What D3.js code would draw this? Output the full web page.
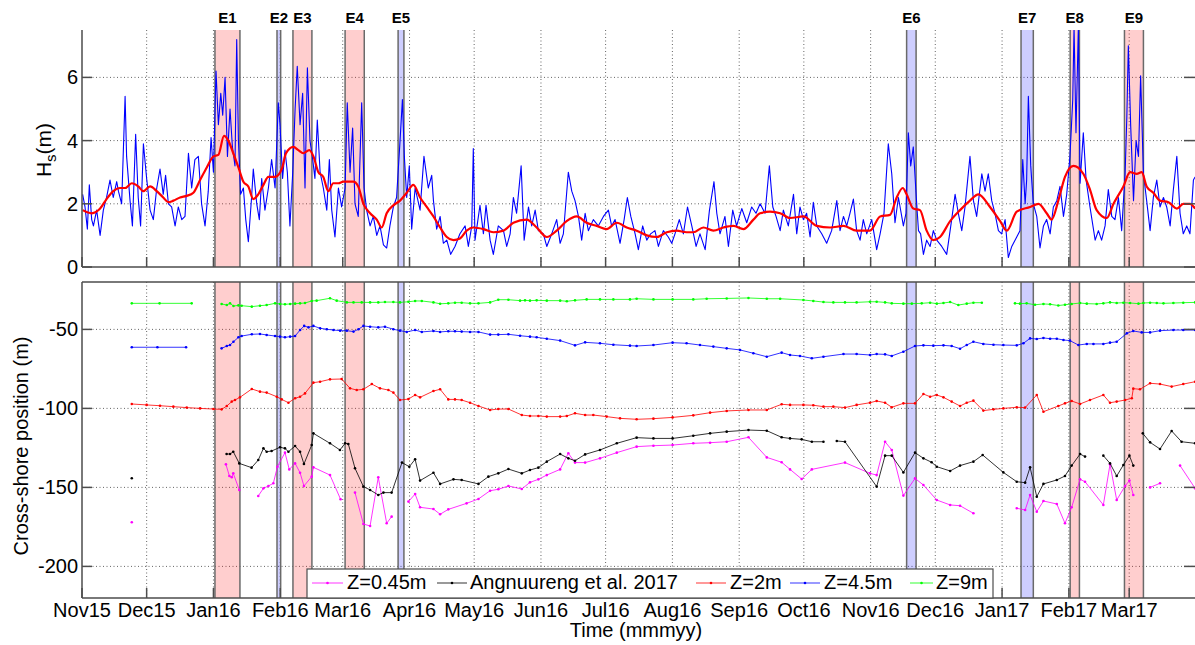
<!DOCTYPE html>
<html><head><meta charset="utf-8">
<script src="https://cdn.jsdelivr.net/npm/d3@7"></script>
<style>
body{margin:0;background:#fff}
svg{display:block}
text{font-family:"Liberation Sans",Arial,Helvetica,sans-serif;fill:#000}
</style></head>
<body><svg id="c" width="1195" height="645"></svg>
<script>
// ---------------- DATA ----------------
// time is given as days since 1 Nov 2015
const timeOrigin = "2015-11-01";
const monthTickStart = "2015-11-01", monthTickEnd = "2017-03-01";

const eventNames = ["E1","E2","E3","E4","E5","E6","E7","E8","E9"];
const eventStartDay = [61.7, 90.5, 97.9, 122.1, 146.7, 382.7, 435.8, 458.6, 483.8];
const eventEndDay   = [73.3, 92.2, 106.7, 131.0, 149.4, 387.1, 441.5, 462.9, 492.6];
const eventKind     = ["r","b","r","r","b","b","b","r","r"];

const hsTicks = [0, 2, 4, 6];
const posTicks = [-200, -150, -100, -50];

// significant wave height (m), [day, Hs]
const hsSeries = [
[0.3,2.3],[1.4,1.9],[2.5,1.2],[3.4,2.6],[4.5,1.5],[5.3,1.3],[6.8,1.8],[8.4,1.0],[9.9,1.8],[11.4,2.2],[13.0,2.75],[14.5,2.2],[16.1,2.7],[16.9,2.4],[18.4,2.0],[20.0,5.4],[20.7,3.5],[22.3,2.1],[23.4,1.3],[24.9,4.2],[26.1,2.2],[27.2,1.3],[28.5,3.9],[30.0,2.8],[31.6,1.8],[33.1,1.5],[34.7,2.5],[36.2,3.1],[37.7,2.3],[38.8,2.9],[40.1,2.0],[41.6,1.9],[43.2,1.3],[44.7,1.9],[46.3,1.5],[47.8,1.6],[49.4,3.6],[50.9,2.5],[52.4,3.4],[54.0,3.5],[55.5,2.0],[57.1,1.3],[58.6,2.4],[59.9,4.1],[61.0,3.0],[62.2,6.2],[63.3,4.5],[64.4,5.5],[65.3,4.8],[66.4,6.0],[67.5,3.5],[68.7,5.0],[69.8,3.8],[71.0,3.2],[71.8,7.2],[72.6,4.0],[73.6,2.3],[74.9,2.5],[76.0,1.5],[77.2,0.8],[78.7,2.2],[79.5,3.1],[81.1,2.0],[82.3,1.5],[83.4,2.8],[84.9,1.8],[86.5,2.5],[88.0,3.4],[89.6,2.5],[91.1,5.2],[91.9,4.5],[93.1,2.8],[94.2,3.7],[95.3,3.0],[96.5,1.3],[97.8,3.0],[98.9,5.0],[99.9,6.35],[101.2,4.5],[102.4,5.5],[103.5,2.5],[104.6,6.3],[105.8,4.0],[106.9,3.5],[108.1,2.8],[109.2,4.65],[110.5,3.0],[112.0,2.5],[113.6,1.8],[114.8,3.4],[115.9,1.8],[117.4,0.95],[119.0,2.5],[120.5,1.9],[122.1,2.5],[123.1,5.2],[124.4,3.0],[125.6,4.4],[126.7,2.0],[128.2,1.6],[129.8,5.2],[130.9,2.5],[132.1,1.8],[133.7,1.3],[135.2,1.6],[136.8,1.0],[138.3,1.3],[139.9,0.7],[141.4,0.6],[142.9,1.3],[144.5,1.9],[146.0,2.2],[147.6,4.0],[148.7,5.3],[149.6,3.5],[150.7,2.2],[151.9,3.2],
[153.0,1.2],[154.6,2.5],[156.9,1.8],[158.7,3.5],[160.7,2.5],[162.3,2.9],[163.1,2.1],[164.6,1.2],[166.2,1.6],[167.7,0.75],[169.3,0.85],[171.1,0.4],[173.1,0.65],[175.4,1.05],[177.8,1.3],[179.3,0.65],[180.9,1.3],[181.6,3.75],[182.4,0.85],[184.7,1.95],[186.3,1.05],[187.5,1.95],[189.4,0.85],[190.9,0.4],[193.2,1.3],[195.6,1.15],[197.1,0.65],[198.7,1.05],[200.2,2.2],[201.7,1.7],[203.8,3.2],[205.2,0.85],[207.2,1.9],[208.7,1.3],[210.3,1.8],[211.8,1.15],[214.1,1.05],[215.7,0.65],[218.0,1.05],[220.3,1.5],[221.9,0.75],[223.4,1.05],[225.7,3.0],[227.3,2.4],[228.8,2.1],[230.4,1.6],[231.9,0.85],[233.5,1.7],[235.0,1.15],[237.3,1.5],[239.6,1.3],[242.0,1.6],[244.3,1.8],[245.8,1.3],[247.4,1.5],[249.7,0.75],[251.6,1.5],[253.1,2.2],[254.7,1.6],[256.7,1.05],[258.2,0.55],[260.2,1.3],[262.1,0.85],[263.9,1.05],[265.9,1.15],[267.5,0.65],[269.8,1.15],[272.1,0.95],[273.7,0.75],[275.2,1.05],[277.2,1.5],[279.1,1.05],[281.0,1.9],[283.0,1.3],[285.0,0.65],[286.8,1.05],[289.2,0.55],[291.2,1.8],[293.3,2.7],[294.6,1.7],[296.1,1.05],[298.4,1.6],[300.0,0.65],[302.0,1.8],[303.8,1.3],[306.2,1.85],[308.5,1.4],[310.8,1.9],[312.8,1.7],[314.7,2.0],[317.0,1.7],[319.0,3.2],[320.6,1.9],[322.1,1.6],[324.0,1.15],[325.5,1.8],[327.8,1.3],[330.2,2.3],
[331.7,1.05],[333.2,1.9],[334.8,1.5],[336.3,1.7],[337.9,0.95],[339.4,2.05],[341.0,1.3],[343.3,1.05],[345.6,0.75],[347.9,1.15],[350.3,2.1],[351.8,1.15],[353.4,1.6],[354.9,1.3],[356.4,1.7],[358.0,2.15],[359.5,1.15],[361.1,0.85],[362.6,1.5],[364.2,1.05],[366.5,1.5],[368.8,0.55],[370.4,1.05],[372.2,1.7],[374.2,3.9],[375.8,2.95],[377.3,1.4],[378.9,2.2],[381.2,1.3],[382.4,1.7],[383.5,4.25],[384.6,3.2],[385.8,3.8],[387.1,2.3],[388.2,1.15],[389.2,1.05],[390.5,0.4],[392.0,0.85],[393.6,0.65],[395.1,1.15],[396.7,0.85],[399.0,0.65],[401.3,0.4],[403.2,1.3],[405.2,2.3],[406.7,1.7],[408.3,1.15],[409.8,1.9],[412.1,3.5],[413.7,2.1],[415.2,1.6],[417.6,2.95],[419.1,2.4],[420.6,2.95],[422.2,2.1],[423.7,1.7],[425.3,1.15],[426.8,1.05],[428.4,1.5],[429.9,0.3],[431.5,0.65],[433.8,0.95],[435.3,1.15],[436.6,3.4],[437.7,2.0],[438.4,2.75],[439.2,5.4],[440.3,3.2],[441.5,2.0],[443.1,1.6],[444.6,0.6],[446.2,1.3],[447.7,1.5],[449.3,1.05],[450.8,1.9],[452.4,2.1],[453.9,2.55],[455.5,1.6],[457.0,2.3],[458.5,3.5],[459.8,5.3],[460.4,7.6],[461.3,4.25],[462.4,7.6],[463.2,2.65],[464.7,4.25],[466.0,2.75],[467.8,1.9],[470.2,0.85],[471.7,1.15],[473.2,0.85],[474.8,1.3],[476.3,2.45],[477.9,1.6],[479.4,1.5],[481.0,2.2],[482.5,1.15],[484.1,2.95],[484.9,4.75],[485.6,7.0],[486.7,4.45],[488.0,2.1],[489.2,4.0],[490.3,3.5],[491.3,6.05],[492.6,2.95],[494.1,2.1],[495.7,1.15],[497.2,2.2],[498.8,2.75],[500.3,1.9],[501.9,2.2],[503.4,1.9],[505.0,1.3],[506.5,2.45],[508.1,3.5],[509.6,1.7],[511.1,1.05],[512.7,1.3],[514.2,1.05],[515.8,2.75],[516.6,2.85]
];

// smoothed Hs (m), [day, Hs]
const hsMeanSeries = [
[0.3,1.8],[4.5,1.7],[8.4,1.85],[11.4,2.15],[14.5,2.4],[17.6,2.5],[20.0,2.5],[23.1,2.65],[26.1,2.55],[28.5,2.4],[31.6,2.55],[34.7,2.4],[37.7,2.2],[40.1,2.05],[42.4,2.1],[45.5,2.2],[48.6,2.25],[51.7,2.35],[54.8,2.75],[57.9,3.15],[61.0,3.5],[63.3,3.55],[65.9,4.15],[67.9,4.0],[70.2,3.6],[72.6,3.15],[74.9,2.7],[77.2,2.55],[79.5,2.15],[81.8,2.3],[84.2,2.6],[86.5,2.85],[89.6,2.85],[92.7,3.1],[94.7,3.6],[98.1,3.8],[100.4,3.7],[102.7,3.6],[105.5,3.7],[107.4,3.5],[109.7,3.0],[112.0,2.85],[114.3,2.4],[116.6,2.65],[119.0,2.65],[121.3,2.7],[123.6,2.7],[125.9,2.7],[128.2,2.55],[130.6,2.0],[133.7,1.7],[136.8,1.5],[139.1,1.25],[141.4,1.7],[144.5,1.95],[147.6,2.1],[150.7,2.35],[153.8,2.6],
[156.9,2.2],[160.0,1.9],[163.1,1.6],[166.2,1.25],[169.3,0.95],[172.4,0.85],[175.4,0.9],[178.5,1.15],[181.6,1.25],[186.3,1.2],[190.9,1.1],[195.6,1.15],[200.2,1.4],[206.4,1.5],[211.0,1.25],[215.7,0.95],[220.3,1.15],[224.9,1.45],[229.6,1.6],[234.2,1.4],[238.9,1.3],[243.5,1.2],[248.2,1.4],[252.8,1.25],[257.4,1.15],[262.1,1.0],[266.7,0.95],[271.4,1.1],[276.0,1.15],[280.6,1.1],[283.7,1.1],[288.4,1.25],[293.0,1.15],[297.7,1.25],[302.3,1.3],[307.0,1.2],[311.6,1.5],[314.7,1.7],[319.3,1.75],[324.0,1.7],[328.6,1.55],
[334.8,1.6],[341.0,1.3],[347.2,1.25],[353.4,1.3],[359.5,1.15],[365.7,1.15],[370.4,1.6],[375.0,1.65],[378.1,2.2],[380.9,2.5],[382.7,2.3],[385.8,1.85],[388.9,1.8],[392.0,1.15],[395.1,0.85],[398.2,0.95],[402.9,1.45],[407.5,1.8],[412.1,2.1],[416.0,2.3],[421.4,1.9],[426.1,1.45],[429.2,1.15],[433.8,1.75],[440.0,1.9],[443.9,2.0],[447.7,1.7],[450.0,1.5],[453.1,2.1],[456.2,2.85],[460.1,3.2],[464.7,2.95],[467.8,2.45],[470.9,1.8],[475.6,1.55],[478.7,2.0],[483.3,2.55],[486.4,3.0],[489.5,2.95],[491.8,3.0],[494.1,2.55],[497.2,2.35],[500.3,2.1],[504.2,2.05],[508.1,1.85],[511.1,2.0],[514.2,2.0],[516.6,1.85]
];

// cross-shore positions (m), [day, position]; null = no survey
const z045Series = [
[23.1,-172.1],[26,null],
[66.8,-135.4],[68.4,-142.8],[69.5,-143.6],[70.2,-141.1],[73.0,-151.6],[76,null],
[81.8,-155.4],[84.2,-150.6],[86.5,-149.1],[88.8,-147.4],[90.7,-136.9],[94.2,-128.0],[96.2,-138.6],[98.9,-134.8],[101.2,-140.7],[103.0,-149.1],[106.6,-143.2],[107.4,-137.3],[115.1,-142.2],[120.0,-157.5],[123,null],
[126.7,-153.3],[130.6,-173.2],[133.7,-174.4],[137.5,-143.6],[141.4,-172.7],[143.7,-168.5],[147,null],
[151.5,-159.0],[154.6,-154.2],[156.9,-162.6],[163.1,-163.7],[166.2,-167.0],[170.0,-163.9],[178.5,-160.1],[184.0,-157.3],[189.4,-152.1],[193.2,-151.2],[197.9,-149.1],[204.1,-151.0],[207.9,-146.8],[211.8,-144.9],[215.7,-142.2],[221.9,-138.6],[225.7,-128.4],[228.8,-134.3],[233.5,-134.3],[240.4,-131.6],[248.2,-128.0],[257.4,-124.2],[265.2,-123.6],[274.1,-123.2],[283.7,-122.1],[291.5,-121.7],[299.2,-121.1],[309.3,-118.3],[317.8,-131.0],[324.7,-134.1],
[328.6,-138.6],[334.0,-144.7],[338.7,-138.6],[354.1,-134.3],[365.7,-141.1],[368.8,-142.2],[372.7,-121.1],[375.8,-126.3],[381.2,-155.2],[386.6,-144.3],[390.5,-148.5],[396.7,-158.0],[402.9,-161.1],[407.5,-161.6],[413.7,-166.4],[420,null],
[433.8,-163.2],[437.7,-164.3],[440.0,-154.8],[443.1,-165.4],[446.2,-158.6],[452.4,-160.5],[456.2,-172.7],[459.3,-162.6],[463.2,-144.9],[465.5,-146.4],[474.0,-161.1],[477.1,-135.4],[480.2,-158.0],[484.1,-149.1],[486.1,-145.7],[487.9,-154.8],[490,null],
[495.7,-150.0],[500.3,-147.4],[505,null],[509.6,-136.2],[516.6,-150.6]
];
const angnuurengSeries = [
[23.1,-144.2],[26,null],
[67.1,-128.9],[68.7,-128.9],[70.2,-127.4],[73.0,-134.8],[78.7,-137.5],[81.8,-132.7],[84.2,-125.3],[85.7,-127.4],[88.0,-127.0],[91.9,-124.6],[94.2,-125.3],[95.8,-127.4],[98.9,-123.8],[101.2,-127.4],[103.0,-135.2],[106.6,-123.2],[107.4,-115.8],[115.1,-122.1],[119.7,-126.3],[122.1,-122.1],[123.6,-122.5],[126.7,-137.9],[130.6,-149.5],[133.7,-151.6],[137.5,-154.8],[139.9,-153.3],[143.7,-153.3],
[148.5,-134.3],[151.9,-136.9],[154.6,-132.2],[156.9,-145.7],[163.1,-140.7],[166.2,-147.8],[172.4,-144.9],[176.2,-145.3],[184.0,-147.8],[188.6,-143.2],[193.2,-141.1],[197.9,-138.4],[204.1,-141.1],[207.9,-139.0],[211.8,-137.5],[215.7,-133.7],[221.9,-128.9],[225.7,-131.6],[228.8,-133.1],[233.5,-129.1],[240.4,-126.3],[248.2,-122.1],[257.4,-118.5],[265.2,-119.0],[274.1,-119.0],[283.7,-117.3],[291.5,-115.8],[299.2,-114.7],[309.3,-113.7],[317.8,-114.1],[324.7,-118.3],
[328.6,-119.0],[334.0,-119.6],[338.7,-121.1],[344.1,-121.1],[347,null],[350.3,-120.6],[354.1,-121.1],[368.8,-149.5],[372.7,-129.9],[375.8,-129.9],[381.2,-140.5],[386.6,-128.0],[390.5,-131.6],[394.3,-134.1],[396.7,-136.9],[402.9,-139.6],[407.5,-136.2],[413.7,-133.7],[418.0,-129.5],[427.6,-140.5],[433.8,-146.4],[437.7,-147.0],[440.0,-137.3],[443.1,-155.9],[446.2,-147.8],[452.4,-145.3],[456.2,-142.8],[459.3,-136.2],[463.2,-128.9],[465.5,-130.5],[470,null],
[474.0,-129.9],[477.1,-134.8],[480.2,-142.8],[483.3,-135.8],[486.1,-129.9],[487.9,-136.2],[490,null],
[492.3,-115.8],[495.7,-121.5],[500.3,-125.7],[505.7,-114.3],[510.3,-121.1],[516.6,-122.1]
];
const z2Series = [
[23.1,-97.2],[30.0,-97.8],[36.2,-98.3],[42.4,-98.9],[48.6,-99.5],[54.8,-100.0],[61.0,-100.4],
[64.8,-100.6],[67.2,-98.5],[69.5,-95.7],[71.0,-94.7],[73.3,-93.0],[78.8,-87.7],[82.6,-89.4],[85.7,-90.0],[90.4,-92.6],[92.7,-94.3],[95.8,-96.4],[98.9,-93.6],[101.2,-92.6],[103.5,-90.5],[107.4,-83.7],[110.5,-83.1],[115.1,-81.6],[120.5,-81.4],[124.4,-87.3],[127.5,-88.4],[130.6,-87.9],[134.5,-84.6],[138.3,-87.3],[142.2,-88.4],[144.5,-90.0],
[147.6,-94.7],[151.5,-94.1],[154.6,-91.5],[156.9,-93.0],[163.1,-89.0],[166.2,-87.9],[170.0,-94.3],[173.1,-94.3],[176.2,-94.7],[180.1,-96.4],[184.0,-98.5],[189.4,-101.0],[193.2,-100.4],[197.9,-100.4],[204.1,-104.2],[207.9,-104.8],[211.8,-104.8],[215.7,-105.2],[221.9,-105.2],[225.0,-104.8],[228.8,-103.1],[233.5,-104.2],[237.3,-104.2],[243.5,-105.2],[249.7,-106.3],[257.4,-106.9],[265.2,-106.5],[274.1,-105.7],[283.7,-104.4],[291.5,-102.7],[299.2,-101.6],[309.3,-101.0],[317.8,-101.0],[324.7,-97.4],
[328.6,-97.8],[334.8,-97.8],[339.4,-98.0],[344.1,-98.9],[348.7,-98.9],[354.1,-99.5],[359.5,-97.8],[365.7,-96.4],[368.8,-95.3],[372.7,-96.4],[375.8,-99.3],[381.2,-96.8],[386.6,-96.8],[390.5,-90.9],[393.6,-92.6],[396.7,-91.5],[399.8,-93.0],[403.6,-95.7],[407.5,-98.5],[410.6,-96.4],[413.7,-95.1],[418.3,-101.4],[423.0,-100.6],[427.6,-100.0],[433.8,-99.3],[437.7,-99.5],[443.1,-91.5],[446.2,-102.1],[453.1,-98.5],[456.2,-96.8],[459.3,-95.3],[463.2,-97.2],[467.8,-94.7],[474.0,-91.5],[477.1,-96.4],[480.2,-95.7],[484.1,-94.7],[487.2,-93.6],[487.9,-87.5],[491.0,-87.9],[495.7,-84.1],[500.3,-84.6],[505.7,-86.2],[511.1,-84.6],[516.6,-83.1]
];
const z45Series = [
[23.1,-61.3],[35.0,-61.3],[48.3,-61.3],[56,null],
[64.8,-62.0],[67.2,-60.5],[68.7,-59.9],[70.3,-57.8],[72.6,-55.0],[74.1,-54.2],[78.8,-53.1],[82.6,-52.9],[85.7,-53.5],[89.6,-54.2],[91.9,-54.6],[94.2,-55.0],[96.6,-54.6],[98.9,-54.2],[101.2,-50.4],[103.1,-47.8],[105.1,-48.7],[107.4,-47.8],[110.5,-49.3],[113.6,-49.9],[116.7,-50.4],[119.8,-50.8],[122.9,-50.8],[126.0,-51.4],[128.3,-49.9],[130.6,-47.8],[133.7,-48.3],[137.5,-48.7],[140.6,-48.3],[144.5,-49.9],
[147.6,-50.8],[150.7,-51.6],[154.6,-50.4],[157.7,-51.6],[163.1,-51.0],[166.2,-51.6],[170.0,-51.2],[173.1,-51.2],[176.2,-51.4],[180.1,-51.6],[184.0,-51.6],[189.4,-53.3],[193.2,-53.3],[197.9,-53.1],[203.3,-54.0],[207.9,-54.6],[211.0,-55.0],[215.7,-55.9],[221.9,-57.1],[228.8,-60.1],[233.5,-58.2],[240.4,-58.8],[246.6,-59.7],[254.3,-60.3],[257.4,-60.5],[265.2,-59.9],[274.1,-58.4],[280.6,-58.8],[286.8,-59.9],[293.0,-60.9],[299.2,-62.0],[305.4,-63.0],[311.6,-65.1],[317.8,-67.3],[324.7,-64.7],
[328.6,-66.2],[333.2,-66.8],[338.7,-68.3],[344.1,-67.3],[353.4,-65.6],[359.5,-65.6],[365.7,-66.2],[368.8,-65.6],[372.7,-65.8],[375.8,-66.8],[381.2,-64.1],[386.6,-60.5],[390.5,-60.1],[395.1,-60.3],[399.8,-60.1],[403.6,-60.5],[407.5,-62.2],[410.6,-59.9],[413.7,-57.8],[418.3,-59.2],[423.0,-59.7],[427.6,-59.9],[433.8,-60.1],[436.9,-58.8],[440.0,-55.7],[443.1,-56.1],[446.2,-55.4],[449.3,-55.9],[452.4,-55.9],[455.5,-56.7],[458.5,-57.1],[462.4,-59.9],[466.3,-59.2],[469.4,-59.2],[474.0,-59.2],[477.1,-58.4],[480.2,-57.8],[484.9,-52.5],[487.9,-51.0],[491.8,-51.9],[495.7,-51.9],[500.3,-50.8],[506.5,-50.4],[511.1,-50.4],[516.6,-50.4]
];
const z9Series = [
[23.1,-33.5],[36.0,-33.5],[50.9,-33.5],[57,null],
[64.8,-33.9],[67.2,-34.6],[68.7,-33.5],[70.3,-35.2],[72.6,-34.8],[74.1,-35.0],[78.8,-35.6],[82.6,-35.0],[85.7,-34.6],[89.6,-33.5],[91.9,-33.9],[94.2,-34.1],[96.6,-33.9],[98.9,-33.7],[101.2,-33.5],[103.5,-33.3],[106.6,-32.0],[108.9,-31.8],[115.1,-30.3],[118.2,-31.8],[122.9,-32.9],[126.0,-32.9],[129.8,-32.9],[133.7,-32.9],[137.5,-32.9],[140.6,-32.7],[144.5,-32.7],
[147.6,-32.9],[151.5,-32.5],[154.6,-32.0],[157.7,-32.0],[163.1,-32.9],[166.2,-33.8],[170.0,-33.5],[173.1,-33.1],[176.2,-33.1],[180.1,-33.5],[184.0,-33.5],[189.4,-32.9],[193.2,-31.2],[197.9,-31.2],[203.3,-31.8],[205.6,-31.6],[207.9,-31.8],[211.0,-31.6],[215.7,-31.8],[221.9,-31.8],[225.0,-32.2],[228.8,-31.6],[234.2,-31.0],[240.4,-31.0],[246.6,-31.0],[254.3,-31.0],[257.4,-30.6],[265.2,-31.0],[274.1,-31.0],[283.7,-31.0],[289.9,-30.6],[299.2,-30.4],[309.3,-30.1],[317.8,-30.6],[324.0,-30.6],
[334.8,-31.4],[339.4,-32.0],[344.1,-32.7],[348.7,-32.9],[354.1,-32.9],[359.5,-32.9],[365.7,-32.5],[368.8,-32.5],[372.7,-32.9],[375.8,-33.5],[381.2,-33.7],[385.1,-33.7],[389.7,-33.5],[393.6,-33.1],[396.7,-33.7],[399.8,-33.3],[402.9,-32.7],[406.7,-34.6],[410.6,-33.7],[413.7,-33.1],[417.6,-33.1],[425,null],
[433.0,-33.5],[435.3,-33.7],[438.4,-33.5],[442.3,-34.4],[446.2,-33.9],[449.3,-34.1],[453.1,-34.9],[456.2,-34.4],[459.3,-33.9],[463.2,-33.3],[466.3,-33.7],[470.9,-33.9],[474.0,-33.5],[477.1,-32.9],[480.2,-33.3],[483.3,-33.1],[486.4,-33.3],[490.3,-33.7],[492.6,-33.3],[495.7,-33.1],[498.8,-33.3],[501.9,-33.5],[506.5,-33.3],[511.1,-33.1],[516.6,-32.9]
];

const seriesNames = ["Z=0.45m", "Angnuureng et al. 2017", "Z=2m", "Z=4.5m", "Z=9m"];
const seriesColors = ["#ff00ff", "#000000", "#ff0000", "#0000ff", "#00ff00"];
const bottomSeries = [z045Series, angnuurengSeries, z2Series, z45Series, z9Series];

// ---------------- DRAW ----------------
const svg = d3.select("#c");
const t0 = Date.parse(timeOrigin + "T00:00:00Z");
const toDate = d => new Date(t0 + d * 864e5);

const x = d3.scaleUtc()
  .domain([new Date(Date.UTC(2015,10,1)), new Date(Date.UTC(2017,3,1))])
  .range([82, 1196]);
const yTop = d3.scaleLinear().domain([0, 7.5]).range([267, 30]);
const yBot = d3.scaleLinear().domain([-220, -20]).range([598, 282]);
const months = d3.utcMonth.range(new Date(monthTickStart + "T00:00:00Z"),
                                 d3.utcDay.offset(new Date(monthTickEnd + "T00:00:00Z"), 1));
const fmt = d3.utcFormat("%b%y");
const L = 82, R = 1196;
const axisCol = "#4d4d4d";

const defs = svg.append("defs");
[["clipTop", yTop], ["clipBot", yBot]].forEach(([id, y]) => {
  const r = y.range();
  defs.append("clipPath").attr("id", id).append("rect")
    .attr("x", L).attr("y", r[1]).attr("width", R - L).attr("height", r[0] - r[1]);
});

function panel(y, ticks, clipId) {
  const [yb, yt] = y.range();
  const g = svg.append("g");
  // grid
  g.append("g").selectAll("line").data(months.slice(1)).join("line")
    .attr("x1", d => x(d)).attr("x2", d => x(d)).attr("y1", yt).attr("y2", yb)
    .attr("stroke", "#333").attr("stroke-width", 1).attr("stroke-dasharray", "1,2.5").attr("opacity", 0.75);
  g.append("g").selectAll("line").data(ticks.filter(v => y(v) < yb - 1)).join("line")
    .attr("x1", L).attr("x2", R).attr("y1", d => y(d)).attr("y2", d => y(d))
    .attr("stroke", "#333").attr("stroke-width", 1).attr("stroke-dasharray", "1,2.5").attr("opacity", 0.75);
  // events
  const ev = g.append("g").selectAll("g").data(eventNames.map((n, i) => i)).join("g");
  ev.append("rect")
    .attr("x", i => x(toDate(eventStartDay[i])))
    .attr("width", i => x(toDate(eventEndDay[i])) - x(toDate(eventStartDay[i])))
    .attr("y", yt).attr("height", yb - yt)
    .attr("fill", i => eventKind[i] === "r" ? "#ff2020" : "#2020ff")
    .attr("fill-opacity", 0.22);
  ev.selectAll("line").data(i => [eventStartDay[i], eventEndDay[i]]).join("line")
    .attr("x1", d => x(toDate(d))).attr("x2", d => x(toDate(d)))
    .attr("y1", yt).attr("y2", yb)
    .attr("stroke", "#6a6a6a").attr("stroke-width", 1.5);
  return g;
}

function axes(y, ticks) {
  const [yb, yt] = y.range();
  const g = svg.append("g");
  g.append("line").attr("x1", L).attr("x2", L).attr("y1", yt).attr("y2", yb)
    .attr("stroke", axisCol).attr("stroke-width", 1.5);
  g.append("line").attr("x1", L).attr("x2", R).attr("y1", yb).attr("y2", yb)
    .attr("stroke", axisCol).attr("stroke-width", 1.5);
  g.selectAll(".yt").data(ticks).join("line")
    .attr("x1", L).attr("x2", L + 10).attr("y1", d => y(d)).attr("y2", d => y(d))
    .attr("stroke", axisCol).attr("stroke-width", 1.5);
  g.selectAll(".yr").data(ticks).join("line")
    .attr("x1", R - 12).attr("x2", R).attr("y1", d => y(d)).attr("y2", d => y(d))
    .attr("stroke", axisCol).attr("stroke-width", 1.5);
  g.selectAll(".xt").data(months).join("line")
    .attr("x1", d => x(d)).attr("x2", d => x(d)).attr("y1", yb).attr("y2", yb - 10)
    .attr("stroke", axisCol).attr("stroke-width", 1.5);
  g.selectAll("text").data(ticks).join("text")
    .attr("x", 78).attr("y", d => y(d)).attr("dy", "0.35em")
    .attr("text-anchor", "end").attr("font-size", 20).text(d => d);
  return g;
}

// top panel
panel(yTop, hsTicks, "clipTop");
const gTop = svg.append("g").attr("clip-path", "url(#clipTop)");
const lineTop = d3.line().x(d => x(toDate(d[0]))).y(d => yTop(d[1]));
gTop.append("path").datum(hsSeries).attr("d", lineTop)
  .attr("fill", "none").attr("stroke", "#0000ff").attr("stroke-width", 1.1).attr("stroke-linejoin", "round");
gTop.append("path").datum(hsMeanSeries).attr("d", lineTop.curve(d3.curveMonotoneX))
  .attr("fill", "none").attr("stroke", "#ff0000").attr("stroke-width", 2.2).attr("stroke-linejoin", "round");
axes(yTop, hsTicks);

// bottom panel
panel(yBot, posTicks, "clipBot");
const gBot = svg.append("g").attr("clip-path", "url(#clipBot)");
const lineBot = d3.line().defined(d => d[1] !== null)
  .x(d => x(toDate(d[0]))).y(d => yBot(d[1]));
bottomSeries.forEach((s, i) => {
  const g = gBot.append("g");
  g.append("path").datum(s).attr("d", lineBot)
    .attr("fill", "none").attr("stroke", seriesColors[i]).attr("stroke-width", 1)
    .attr("stroke-opacity", 0.8);
  g.selectAll("circle").data(s.filter(d => d[1] !== null)).join("circle")
    .attr("cx", d => x(toDate(d[0]))).attr("cy", d => yBot(d[1])).attr("r", 1.3)
    .attr("fill", seriesColors[i]);
});
const ab = axes(yBot, posTicks);
ab.append("line").attr("x1", L).attr("x2", R).attr("y1", 282).attr("y2", 282)
  .attr("stroke", axisCol).attr("stroke-width", 1.5);

// x tick labels
svg.append("g").selectAll("text").data(months).join("text")
  .attr("x", d => x(d)).attr("y", 617).attr("text-anchor", "middle")
  .attr("font-size", 20).text(d => fmt(d));
svg.append("text").attr("x", 636).attr("y", 637).attr("text-anchor", "middle")
  .attr("font-size", 20).text("Time (mmmyy)");

// event labels
svg.append("g").selectAll("text").data(eventNames).join("text")
  .attr("x", (d, i) => (x(toDate(eventStartDay[i])) + x(toDate(eventEndDay[i]))) / 2)
  .attr("y", 23).attr("text-anchor", "middle").attr("font-size", 15).attr("font-weight", "bold")
  .text(d => d);

// y titles
const yt1 = svg.append("text").attr("transform", "translate(51,150) rotate(-90)")
  .attr("text-anchor", "middle").attr("font-size", 21);
yt1.append("tspan").text("H");
yt1.append("tspan").attr("font-size", 15).attr("dy", 5).text("s");
yt1.append("tspan").attr("dy", -5).text("(m)");
svg.append("text").attr("transform", "translate(28,446) rotate(-90)")
  .attr("text-anchor", "middle").attr("font-size", 20).text("Cross-shore position (m)");

// legend
const lg = svg.append("g");
lg.append("rect").attr("x", 307).attr("y", 569).attr("width", 686).attr("height", 29)
  .attr("fill", "#fff").attr("stroke", axisCol).attr("stroke-width", 1.2);
const legX0 = [312, 437, 696, 790, 910];
const legX1 = [343, 467, 726, 820, 933];
const legTx = [347, 470, 730, 824, 936];
seriesNames.forEach((n, i) => {
  lg.append("line").attr("x1", legX0[i]).attr("x2", legX1[i]).attr("y1", 583).attr("y2", 583)
    .attr("stroke", seriesColors[i]).attr("stroke-width", 1).attr("stroke-opacity", 0.8);
  lg.append("circle").attr("cx", (legX0[i] + legX1[i]) / 2).attr("cy", 583).attr("r", 1.3)
    .attr("fill", seriesColors[i]);
  lg.append("text").attr("x", legTx[i]).attr("y", 589).attr("font-size", 20).text(n);
});
</script>
</body></html>
